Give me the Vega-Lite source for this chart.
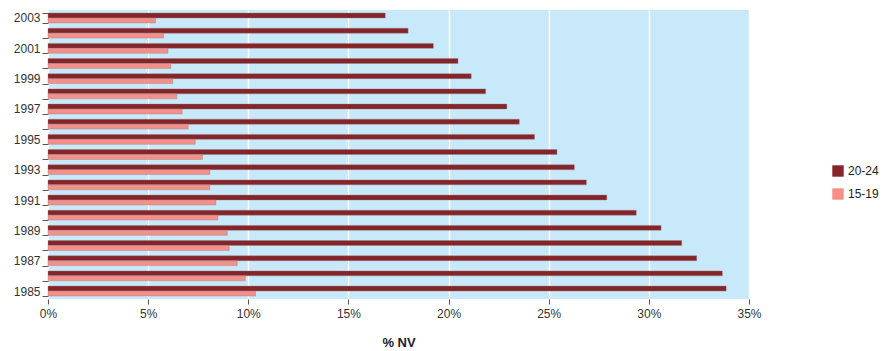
{
  "$schema": "https://vega.github.io/schema/vega-lite/v6.json",
  "width": 701,
  "height": 289,
  "autosize": {"type": "none"},
  "padding": {"left": 48, "top": 10, "right": 133, "bottom": 52},
  "background": "white",
  "config": {
    "view": {"fill": "#C8E9FA", "stroke": null},
    "font": "Liberation Sans"
  },
  "data": {
    "values": [
      {"year": 2003, "group": "20-24", "value": 16.84}, {"year": 2003, "group": "15-19", "value": 5.37},
      {"year": 2002, "group": "20-24", "value": 17.98}, {"year": 2002, "group": "15-19", "value": 5.77},
      {"year": 2001, "group": "20-24", "value": 19.24}, {"year": 2001, "group": "15-19", "value": 5.99},
      {"year": 2000, "group": "20-24", "value": 20.47}, {"year": 2000, "group": "15-19", "value": 6.13},
      {"year": 1999, "group": "20-24", "value": 21.13}, {"year": 1999, "group": "15-19", "value": 6.23},
      {"year": 1998, "group": "20-24", "value": 21.85}, {"year": 1998, "group": "15-19", "value": 6.43},
      {"year": 1997, "group": "20-24", "value": 22.91}, {"year": 1997, "group": "15-19", "value": 6.70},
      {"year": 1996, "group": "20-24", "value": 23.53}, {"year": 1996, "group": "15-19", "value": 7.00},
      {"year": 1995, "group": "20-24", "value": 24.29}, {"year": 1995, "group": "15-19", "value": 7.35},
      {"year": 1994, "group": "20-24", "value": 25.41}, {"year": 1994, "group": "15-19", "value": 7.72},
      {"year": 1993, "group": "20-24", "value": 26.28}, {"year": 1993, "group": "15-19", "value": 8.08},
      {"year": 1992, "group": "20-24", "value": 26.88}, {"year": 1992, "group": "15-19", "value": 8.08},
      {"year": 1991, "group": "20-24", "value": 27.90}, {"year": 1991, "group": "15-19", "value": 8.38},
      {"year": 1990, "group": "20-24", "value": 29.37}, {"year": 1990, "group": "15-19", "value": 8.48},
      {"year": 1989, "group": "20-24", "value": 30.61}, {"year": 1989, "group": "15-19", "value": 8.95},
      {"year": 1988, "group": "20-24", "value": 31.64}, {"year": 1988, "group": "15-19", "value": 9.05},
      {"year": 1987, "group": "20-24", "value": 32.39}, {"year": 1987, "group": "15-19", "value": 9.45},
      {"year": 1986, "group": "20-24", "value": 33.67}, {"year": 1986, "group": "15-19", "value": 9.85},
      {"year": 1985, "group": "20-24", "value": 33.86}, {"year": 1985, "group": "15-19", "value": 10.36}
    ]
  },
  "mark": {"type": "bar", "stroke": "#9a7a7e", "strokeWidth": 0.4},
  "encoding": {
    "y": {
      "field": "year",
      "type": "ordinal",
      "sort": "descending",
      "scale": {"paddingInner": 0.35, "paddingOuter": 0.2},
      "axis": {
        "title": null,
        "domain": false,
        "tickBand": "extent",
        "tickColor": "#555555",
        "tickSize": 6,
        "labelExpr": "datum.value % 2 == 1 ? datum.label : ''",
        "labelFontSize": 12,
        "labelColor": "#333333",
        "labelPadding": 2
      }
    },
    "yOffset": {
      "field": "group",
      "type": "nominal",
      "sort": ["20-24", "15-19"],
      "scale": {"paddingInner": 0, "paddingOuter": 0}
    },
    "x": {
      "field": "value",
      "type": "quantitative",
      "scale": {"domain": [0, 35], "nice": false},
      "axis": {
        "values": [0, 5, 10, 15, 20, 25, 30, 35],
        "labelExpr": "datum.value + '%'",
        "labelFlush": false,
        "title": "% NV",
        "titleFontSize": 13,
        "titleFontWeight": "bold",
        "titleColor": "#222222",
        "titlePadding": 17,
        "domain": false,
        "grid": true,
        "gridColor": "white",
        "gridWidth": 1.5,
        "tickColor": "#555555",
        "tickSize": 5,
        "labelFontSize": 12,
        "labelColor": "#333333",
        "labelPadding": 4
      }
    },
    "color": {
      "field": "group",
      "type": "nominal",
      "sort": ["20-24", "15-19"],
      "scale": {"domain": ["20-24", "15-19"], "range": ["#84252A", "#F4908A"]},
      "legend": {
        "title": null,
        "orient": "none",
        "legendX": 784,
        "legendY": 155,
        "symbolType": "square",
        "symbolSize": 130,
        "symbolStrokeWidth": 0,
        "labelFontSize": 12,
        "labelColor": "#222222",
        "rowPadding": 11
      }
    }
  }
}
